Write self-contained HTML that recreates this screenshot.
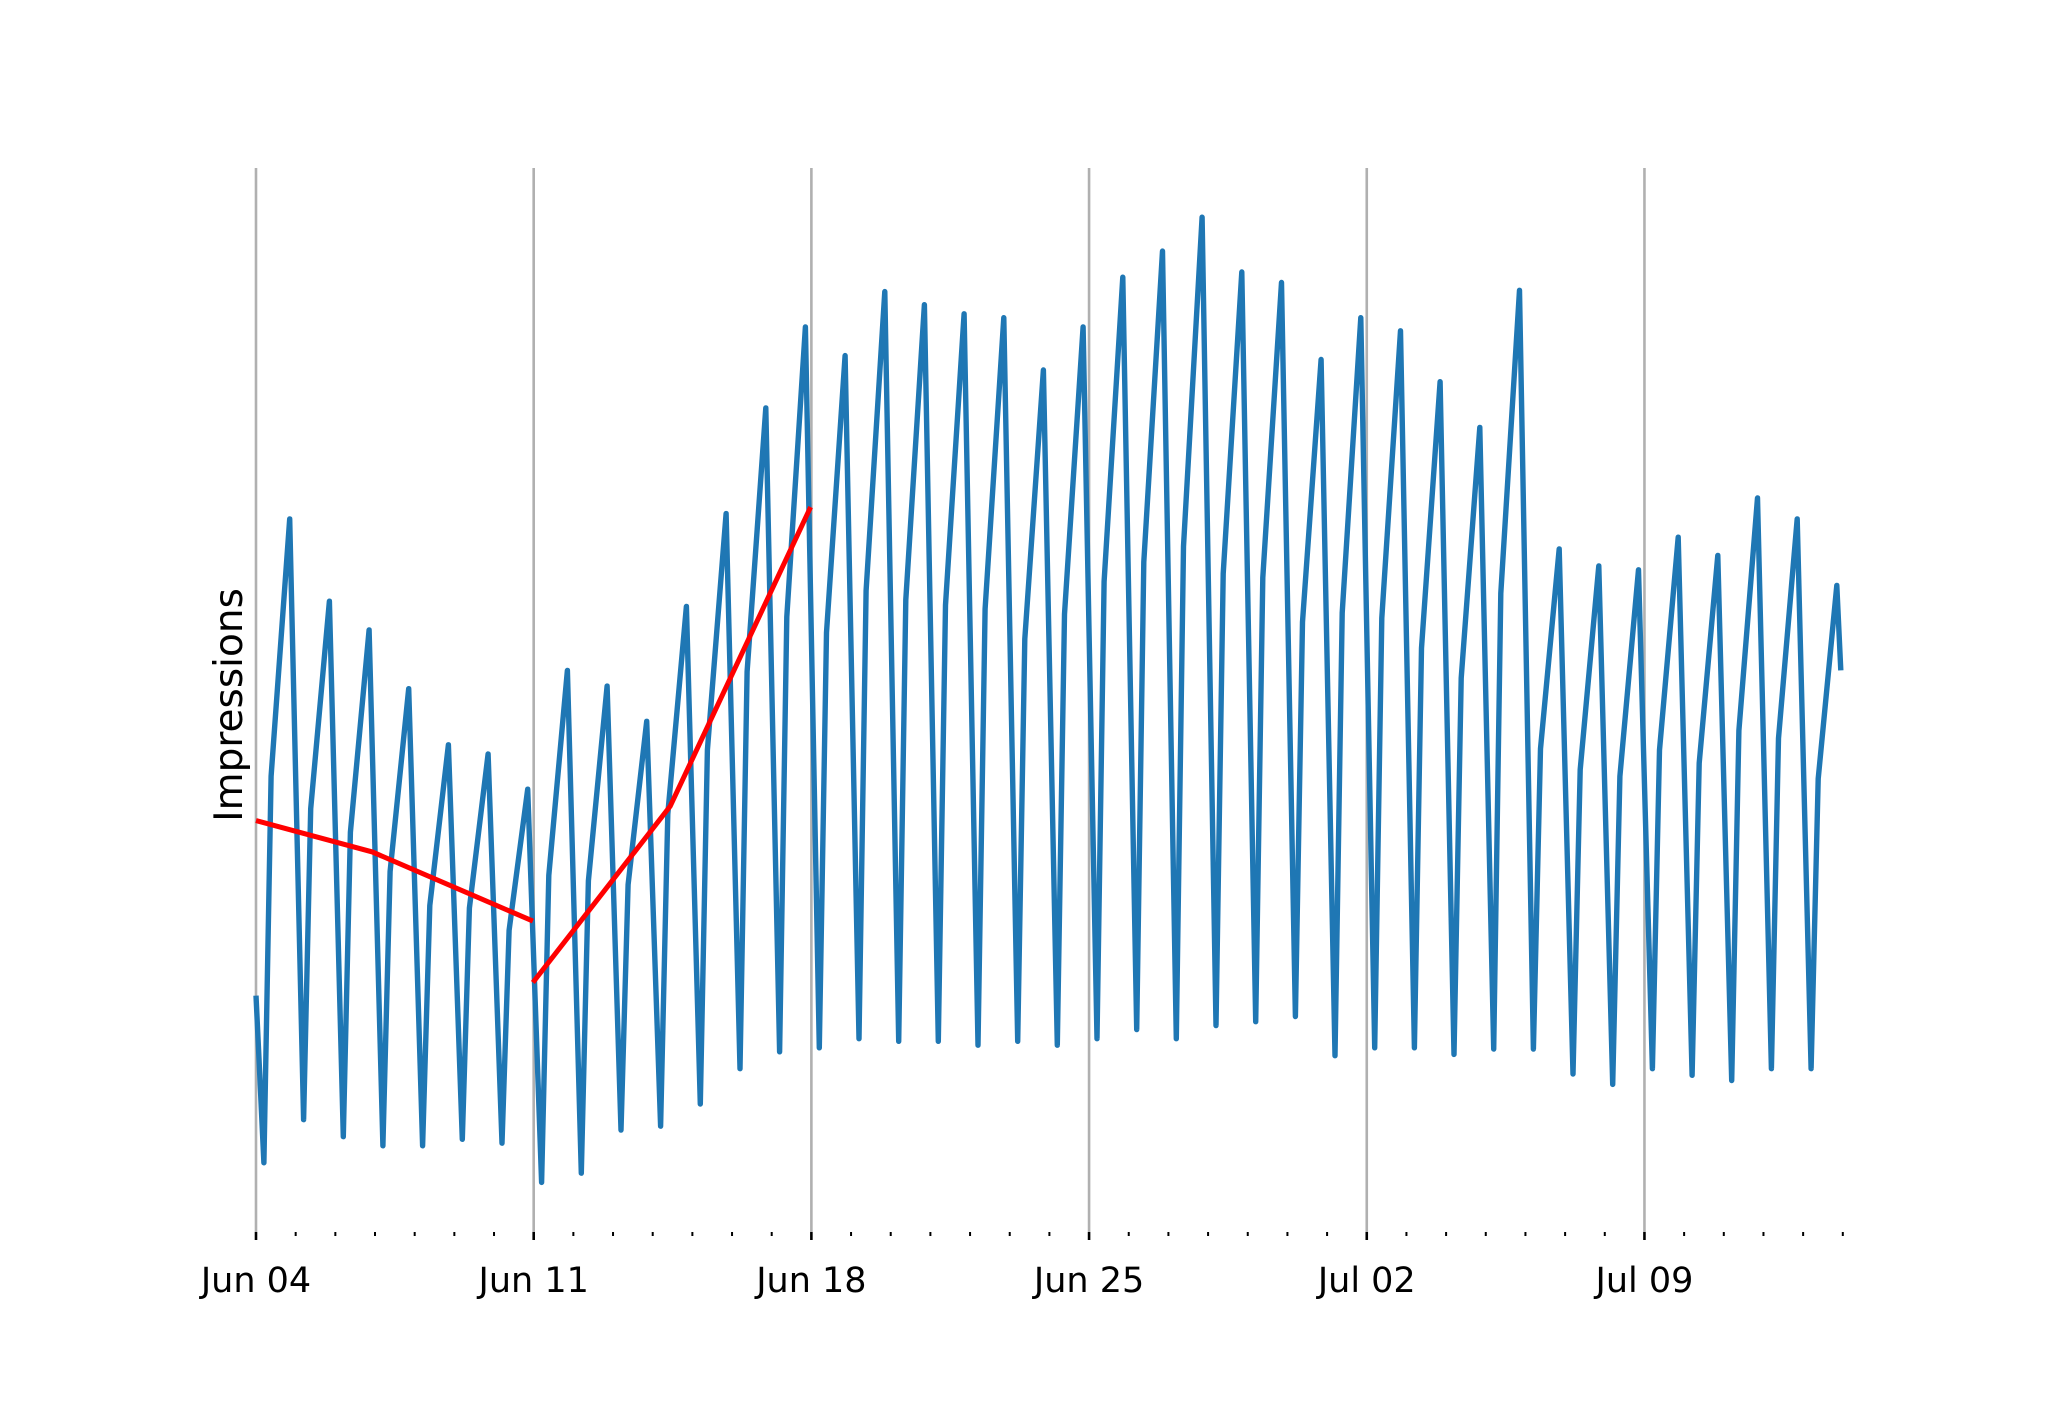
<!DOCTYPE html>
<html><head><meta charset="utf-8"><style>
html,body{margin:0;padding:0;background:#fff;}
svg{display:block;font-family:"DejaVu Sans","Liberation Sans",sans-serif;}
</style></head><body>
<svg id="chart" width="2048" height="1408" viewBox="0 0 2048 1408" xmlns="http://www.w3.org/2000/svg">
<text x="0" y="0" transform="translate(242,705) rotate(-90)" text-anchor="middle" font-size="39" fill="#000">Impressions</text>
<g id="grid"></g><g id="ticks"></g><g id="series"></g>
</svg>
<script>
const weekLabels = ["Jun 04","Jun 11","Jun 18","Jun 25","Jul 02","Jul 09"];
const troughValues = [53,86,73,66,66,71,68,38,45,78,81,98,125,138,141,148,146,146,143,146,143,148,155,148,158,161,165,135,141,141,136,140,140,121,113,125,120,116,125,125];
const shoulderValues = [349,324,306,276,250,248,231,273,269,266,320,369,429,471,459,491,484,480,477,454,473,498,513,525,504,501,467,474,470,447,424,489,370,354,349,369,359,384,378,347];
const peakValues = [546,483,461,416,373,366,339,430,418,391,479,550,631,693,671,720,710,703,700,660,693,731,751,777,735,727,668,700,690,651,616,721,523,510,507,532,518,562,546,495];
const startValue = 181;
const endValue = 430;
const trendDays = [0,2.93,6.98,null,6.98,10.44,13.98];
const trendValues = [315,291,238,null,191,326,555];

const NS="http://www.w3.org/2000/svg";
const X0=256, DAY=39.67, AXY=1232, S=1.3061, TOP=168;
const xs=d=>X0+d*DAY;
const ys=v=>AXY-v*S;
function mk(tag,attrs,parent){const e=document.createElementNS(NS,tag);for(const k in attrs)e.setAttribute(k,attrs[k]);parent.appendChild(e);return e;}
const grid=document.getElementById('grid'), ticks=document.getElementById('ticks'), series=document.getElementById('series');
weekLabels.forEach((lab,i)=>{
  const x=xs(i*7);
  const g=mk('line',{x1:x,x2:x,y1:TOP,y2:AXY,stroke:'#b0b0b0','stroke-width':2.6},grid);
  
  
  const t=mk('line',{x1:x,x2:x,y1:AXY,y2:AXY+8,stroke:'#000','stroke-width':2.6},ticks);
  
  
  const tx=mk('text',{x:x,y:AXY+60,'text-anchor':'middle','font-size':35,fill:'#000'},ticks);
  tx.textContent=lab;
  
  
});
for(let d=0;d<=40;d++){ if(d%7===0)continue;
  const t=mk('line',{x1:xs(d),x2:xs(d),y1:AXY,y2:AXY+4,stroke:'#000','stroke-width':2},ticks);
  
  
}
let pts=[[0,startValue]];
for(let i=0;i<troughValues.length;i++){
  pts.push([i+0.2,troughValues[i]]);
  pts.push([i+0.38,shoulderValues[i]]);
  pts.push([i+0.85,peakValues[i]]);
}
pts.push([39.95,endValue]);
const p=mk('polyline',{points:pts.map(q=>xs(q[0]).toFixed(1)+','+ys(q[1]).toFixed(1)).join(' '),fill:'none',stroke:'#1f77b4','stroke-width':5.4,'stroke-linejoin':'round'},series);


let segs=[[]];
trendDays.forEach((d,i)=>{if(d===null){segs.push([]);}else segs[segs.length-1].push(xs(d).toFixed(1)+','+ys(trendValues[i]).toFixed(1));});
segs.forEach((s,i)=>{
  const r=mk('polyline',{points:s.join(' '),fill:'none',stroke:'#ff0000','stroke-width':5},series);
  
  
});
</script>
</body></html>
